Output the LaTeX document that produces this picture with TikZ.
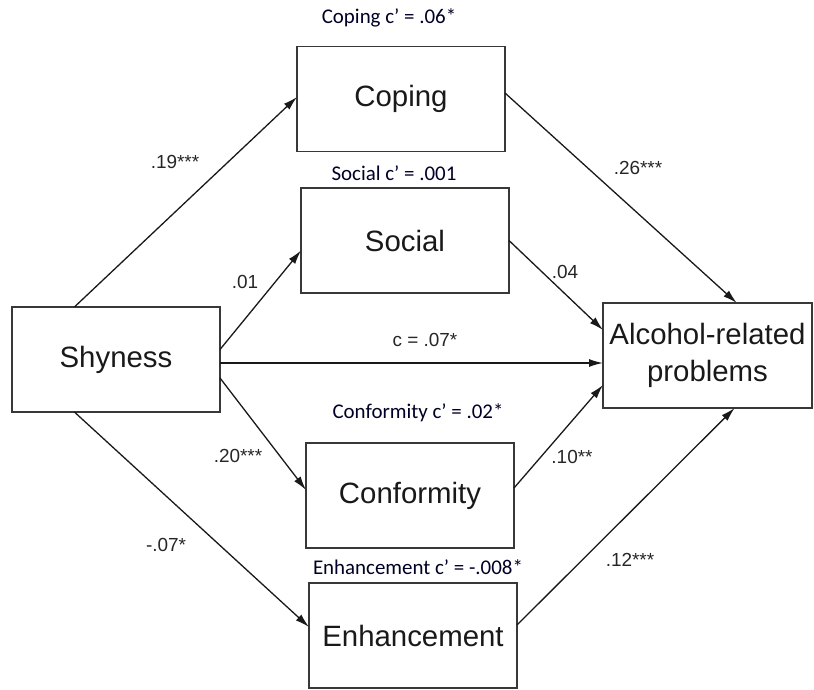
\documentclass[tikz,border=0pt]{standalone}
\usepackage{fontspec}
\setmainfont{Liberation Sans}
\newfontfamily\capfont{Carlito}
\usetikzlibrary{arrows.meta,calc}
\begin{document}
\begin{tikzpicture}[x=1bp,y=-1bp,
  varbox/.style={draw=black!78,line width=1.9bp,minimum width=208bp,minimum height=105bp,inner sep=0pt,outer sep=0pt,align=center,font=\fontsize{29.5}{37}\selectfont,text=black!90},
  medarrow/.style={draw=black!90,line width=1.3bp,-{Latex[length=14bp,width=8bp]}},
  coef/.style={font=\fontsize{19}{22}\selectfont,text=black!85,inner sep=0pt},
  captxt/.style={font=\capfont\fontsize{21}{24}\selectfont,text=black!85!blue,inner sep=0pt}]
\useasboundingbox (0,0) rectangle (814,690);
\node[varbox] (coping) at (401,99) {Coping};
\node[varbox] (social) at (405,240.5) {Social};
\node[varbox] (shy) at (116,359.5) {Shyness};
\node[varbox,minimum width=209bp] (alc) at (707.5,355.5) {Alcohol-related\\problems};
\node[varbox] (conf) at (410,495.5) {Conformity};
\node[varbox] (enh) at (413,635.5) {Enhancement};
% captions
\node[captxt] (capcop) at (389,18) {Coping c’ = .06*};
\node[captxt] (capsoc) at (394,173) {Social c’ = .001};
\node[captxt] (capcon) at (418,413) {Conformity c’ = .02*};
\node[captxt] (capenh) at (418,567) {Enhancement c’ = -.008*};
% paths
\draw[medarrow] ($(shy.north west)!0.30!(shy.north east)$) -- ($(coping.west)+(0,-2)$);
\draw[medarrow] ($(shy.east)+(0,-10)$) -- ($(social.west)+(0,10)$);
\draw[medarrow] ($(shy.east)+(0,3.5)$) -- ($(alc.west)+(0,7.5)$);
\draw[medarrow] ($(shy.east)+(0,18.5)$) -- ($(conf.west)+(0,-5.5)$);
\draw[medarrow] ($(shy.south west)!0.30!(shy.south east)$) -- ($(enh.west)+(0,-8.5)$);
\draw[medarrow] ($(coping.east)+(0,-6)$) -- ($(alc.north west)!0.64!(alc.north east)$);
\draw[medarrow] (social.east) -- ($(alc.west)+(0,-25.5)$);
\draw[medarrow] ($(conf.east)+(0,-7.5)$) -- ($(alc.west)+(0,29.5)$);
\draw[medarrow] ($(enh.east)+(0,-10.5)$) -- ($(alc.south west)!0.63!(alc.south east)$);
% coefficients
\node[coef] (l19) at (175,162) {.19***};
\node[coef] (l01) at (245,282) {.01};
\node[coef] (l26) at (638,168) {.26***};
\node[coef] (l04) at (565,272) {.04};
\node[coef] (lc) at (425,340) {c = .07*};
\node[coef] (l20) at (238,456) {.20***};
\node[coef] (l10) at (572,457) {.10**};
\node[coef] (l07) at (166,545) {-.07*};
\node[coef] (l12) at (630,560) {.12***};
\end{tikzpicture}
\end{document}
